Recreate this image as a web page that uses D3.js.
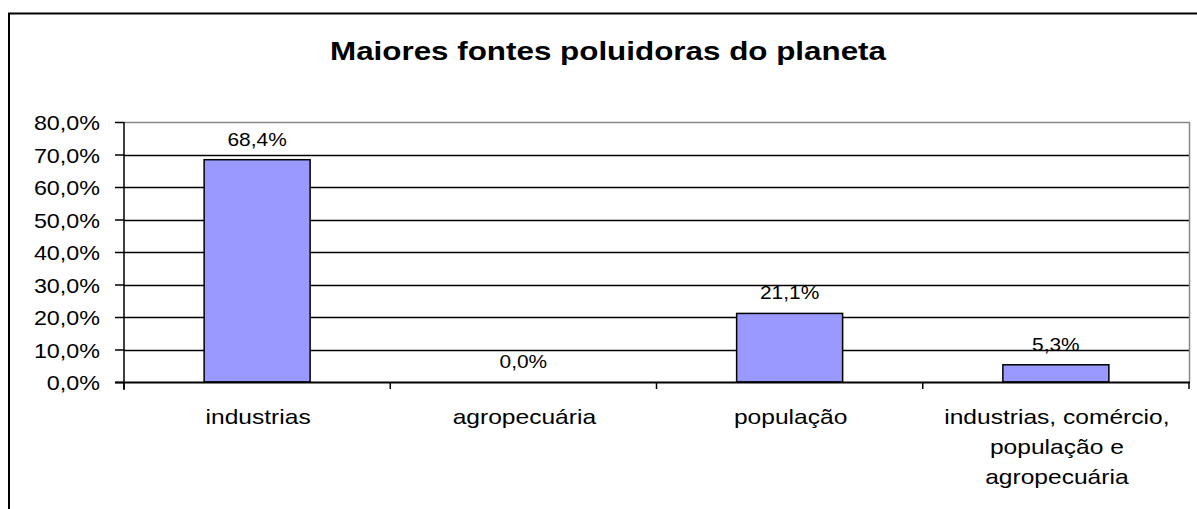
<!DOCTYPE html>
<html><head><meta charset="utf-8">
<script src="https://cdn.jsdelivr.net/npm/d3@7"></script>
<style>body{margin:0;background:#fff}svg{display:block}text{font-family:"Liberation Sans",Arial,sans-serif}</style>
</head><body>
<svg id="c" width="1197" height="509"></svg>
<script>
const title = "Maiores fontes poluidoras do planeta";
const categories = [["industrias"],["agropecuária"],["população"],["industrias, comércio,","população e","agropecuária"]];
const values = [68.4, 0.0, 21.1, 5.3];
const yTicks = [0,10,20,30,40,50,60,70,80];

const svg = d3.select("#c");
const W=1197,H=509;
svg.append("rect").attr("width",W).attr("height",H).attr("fill","#fff");
svg.append("rect").attr("x",9).attr("y",13.5).attr("width",1200).attr("height",520)
  .attr("fill","none").attr("stroke","#000").attr("stroke-width",2);

function stretch(sel,k){
  sel.each(function(){const w=this.getComputedTextLength();
    d3.select(this).attr("textLength",w*k).attr("lengthAdjust","spacingAndGlyphs");});
}

const m={l:124,t:122,r:1189,b:382};
const x=d3.scaleBand().domain(d3.range(categories.length)).range([m.l,m.r]).paddingInner(0).paddingOuter(0);
const y=d3.scaleLinear().domain([0,80]).range([m.b,m.t]);
const fmt=v=>d3.format(".1f")(v).replace(".",",")+"%";

const t=svg.append("text").attr("x",608).attr("y",60).attr("text-anchor","middle")
  .attr("font-size",26).attr("font-weight","bold").text(title);
t.attr("textLength",556).attr("lengthAdjust","spacingAndGlyphs");

// gridlines
svg.append("g").selectAll("line").data(yTicks.filter(t=>t>0&&t<80)).join("line")
  .attr("x1",m.l).attr("x2",m.r).attr("y1",d=>Math.round(y(d))+0.5).attr("y2",d=>Math.round(y(d))+0.5)
  .attr("stroke","#000").attr("stroke-width",1.5);
svg.append("path").attr("d",`M${m.l},${m.t+0.5}H${m.r+0.5}V${m.b}`).attr("fill","none").attr("stroke","#888").attr("stroke-width",1.5);

// bars
const bw=106;
svg.append("g").selectAll("rect").data(values.map((v,i)=>({v,i})).filter(d=>d.v>0)).join("rect")
  .attr("x",d=>x(d.i)+x.bandwidth()/2-bw/2)
  .attr("y",d=>y(d.v)).attr("width",bw).attr("height",d=>m.b-y(d.v))
  .attr("fill","#9999ff").attr("stroke","#000").attr("stroke-width",1.5);

// value labels
svg.append("g").selectAll("text").data(values).join("text")
  .attr("x",(d,i)=>x(i)+x.bandwidth()/2).attr("y",d=>y(d)-14)
  .attr("text-anchor","middle").attr("font-size",19).text(fmt).call(stretch,1.1);

// y axis
const ya=d3.axisLeft(y).tickValues(yTicks).tickFormat(fmt).tickSize(9).tickPadding(15);
const gy=svg.append("g").attr("transform",`translate(${m.l},0)`).call(ya);
gy.select(".domain").attr("stroke","#000").attr("stroke-width",1.5).attr("d",`M0,${m.t}V${m.b+8}`);
gy.selectAll(".tick line").attr("stroke","#000").attr("stroke-width",1.5);
gy.selectAll(".tick text").attr("font-size",21).attr("fill","#000").attr("dy","0.36em")
  .attr("font-family","Liberation Sans,Arial,sans-serif").call(stretch,1.11);

// x axis baseline and ticks
svg.append("line").attr("x1",m.l-9).attr("x2",m.r+1).attr("y1",m.b+0.5).attr("y2",m.b+0.5).attr("stroke","#000").attr("stroke-width",2);
svg.append("g").selectAll("line").data(d3.range(categories.length+1)).join("line")
  .attr("x1",d=>m.l+d*x.step()).attr("x2",d=>m.l+d*x.step()).attr("y1",m.b).attr("y2",m.b+7)
  .attr("stroke","#000").attr("stroke-width",1.5);

// category labels
const lines=[];
categories.forEach((c,i)=>c.forEach((s,j)=>lines.push({s,i,j})));
svg.append("g").selectAll("text").data(lines).join("text")
  .attr("text-anchor","middle").attr("font-size",21)
  .attr("x",d=>x(d.i)+x.bandwidth()/2+1).attr("y",d=>424+d.j*30).text(d=>d.s).call(stretch,1.17);
</script>
</body></html>
